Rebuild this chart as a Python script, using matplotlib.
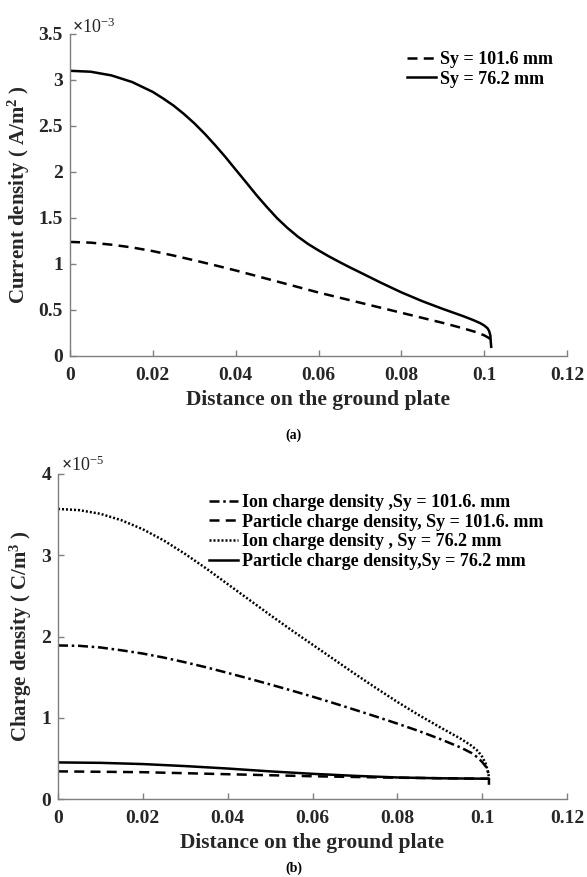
import numpy as np
import matplotlib.pyplot as plt
from matplotlib.ticker import FuncFormatter, MultipleLocator

plt.rcParams['font.family'] = 'Liberation Serif'
plt.rcParams['font.weight'] = 'bold'
plt.rcParams['axes.labelweight'] = 'bold'
plt.rcParams['mathtext.fontset'] = 'custom'
plt.rcParams['mathtext.rm'] = 'Liberation Serif:bold'
plt.rcParams['mathtext.bf'] = 'Liberation Serif:bold'
plt.rcParams['mathtext.it'] = 'Liberation Serif:bold'
plt.rcParams['mathtext.default'] = 'bf'

# current density on the ground plate, in units of 1e-3 A/m^2
x_cur_76 = [0, 0.005, 0.01, 0.015, 0.02, 0.0225, 0.025, 0.0275, 0.03, 0.0325,
            0.035, 0.0375, 0.04, 0.0425, 0.045, 0.0475, 0.05, 0.0525, 0.055,
            0.0575, 0.06, 0.0625, 0.065, 0.0675, 0.07, 0.075, 0.08, 0.085,
            0.09, 0.095, 0.0975, 0.099, 0.1, 0.1008, 0.1012, 0.1015, 0.1016,
            0.1017]
cur_76 = [3.100, 3.090, 3.050, 2.978, 2.870, 2.799, 2.722, 2.631, 2.530, 2.417,
          2.294, 2.164, 2.026, 1.889, 1.750, 1.621, 1.498, 1.392, 1.298,
          1.217, 1.148, 1.083, 1.023, 0.965, 0.910, 0.798, 0.692, 0.597,
          0.512, 0.432, 0.388, 0.358, 0.332, 0.302, 0.272, 0.222, 0.150,
          0.100]
x_cur_101 = [0, 0.005, 0.01, 0.015, 0.02, 0.025, 0.03, 0.035, 0.04, 0.05,
             0.06, 0.07, 0.08, 0.09, 0.095, 0.098, 0.1, 0.101, 0.1016]
cur_101 = [1.240, 1.232, 1.210, 1.180, 1.140, 1.092, 1.040, 0.986, 0.930, 0.810,
           0.690, 0.580, 0.470, 0.360, 0.300, 0.260, 0.225, 0.200, 0.180]

# charge densities, in units of 1e-5 C/m^3
x_ion_101 = [0, 0.005, 0.01, 0.015, 0.02, 0.025, 0.03, 0.035, 0.04, 0.045,
             0.05, 0.055, 0.06, 0.065, 0.07, 0.075, 0.08, 0.085, 0.09, 0.095,
             0.0975, 0.099, 0.1, 0.101, 0.1016]
ion_101 = [1.890, 1.885, 1.865, 1.830, 1.790, 1.740, 1.682, 1.620, 1.552, 1.482,
           1.410, 1.336, 1.260, 1.180, 1.098, 1.014, 0.928, 0.838, 0.740, 0.632,
           0.566, 0.508, 0.455, 0.390, 0.300]
x_part_101 = [0, 0.02, 0.04, 0.06, 0.08, 0.1, 0.1016]
part_101 = [0.340, 0.330, 0.305, 0.280, 0.262, 0.250, 0.250]
x_ion_76 = [0, 0.005, 0.01, 0.015, 0.02, 0.025, 0.03, 0.035, 0.04, 0.045,
            0.05, 0.055, 0.06, 0.065, 0.07, 0.075, 0.08, 0.085, 0.09, 0.095,
            0.0975, 0.099, 0.1, 0.1008, 0.1012, 0.1015, 0.1016]
ion_76 = [3.570, 3.555, 3.510, 3.430, 3.320, 3.180, 3.015, 2.835, 2.645, 2.455,
          2.265, 2.080, 1.900, 1.720, 1.540, 1.365, 1.195, 1.035, 0.885, 0.740,
          0.655, 0.590, 0.520, 0.440, 0.370, 0.300, 0.240]
x_part_76 = [0, 0.01, 0.02, 0.03, 0.04, 0.05, 0.06, 0.07, 0.08, 0.09, 0.1,
             0.1016, 0.1016]
part_76 = [0.450, 0.445, 0.430, 0.405, 0.375, 0.340, 0.310, 0.285, 0.265,
           0.255, 0.250, 0.250, 0.190]

W, H = 587, 877
fig = plt.figure(figsize=(W / 100, H / 100), dpi=100)
axA = fig.add_axes((70 / W, 1 - 356 / H, 497 / W, 322 / H))
axB = fig.add_axes((58 / W, 1 - 799 / H, 509 / W, 325 / H))

tick_fmt = FuncFormatter(lambda v, p: f'{v:g}')
axis_grey = '#7f7f7f'
label_col = '#262626'


def style_axes(ax, ymax, ystep):
    ax.set_xlim(0, 0.12)
    ax.set_ylim(0, ymax)
    ax.xaxis.set_major_locator(MultipleLocator(0.02))
    ax.yaxis.set_major_locator(MultipleLocator(ystep))
    ax.xaxis.set_major_formatter(tick_fmt)
    ax.yaxis.set_major_formatter(tick_fmt)
    for s in ['top', 'right']:
        ax.spines[s].set_visible(False)
    for s in ['left', 'bottom']:
        ax.spines[s].set_color(axis_grey)
        ax.spines[s].set_linewidth(1.0)
    ax.tick_params(direction='in', length=4, width=1.0, color=axis_grey,
                   labelsize=14, labelcolor=label_col)
    ax.tick_params(axis='x', pad=8)
    ax.tick_params(axis='y', pad=5)
    ax.set_xlabel('Distance on the ground plate', fontsize=15.5,
                  color=label_col, labelpad=4)


lw = 1.8

axA.plot(x_cur_101, cur_101, color='black', lw=lw, dashes=(4, 2.5),
         label='Sy = 101.6 mm')
axA.plot(x_cur_76, cur_76, color='black', lw=lw, label='Sy = 76.2 mm')
style_axes(axA, 3.5, 0.5)
axA.set_ylabel('Current density ( A/m$^{2}$ )', fontsize=15,
               color=label_col, labelpad=5)
axA.text(0.005, 0.992, r'$\times\mathregular{10^{-3}}$', transform=axA.transAxes,
         fontsize=13, ha='left', va='bottom', color=label_col,
         fontweight='normal')
axA.legend(loc='upper left', bbox_to_anchor=(407 / W, 1 - 51 / H),
           bbox_transform=fig.transFigure, frameon=False, fontsize=13,
           handlelength=1.6, handletextpad=0.2, borderpad=0,
           borderaxespad=0, labelspacing=0.15)

axB.plot(x_ion_101, ion_101, color='black', lw=lw, dashes=(4, 1.5, 1, 1.5),
         label='Ion charge density ,Sy = 101.6. mm')
axB.plot(x_part_101, part_101, color='black', lw=lw, dashes=(4, 2.5),
         label='Particle charge density, Sy = 101.6. mm')
axB.plot(x_ion_76, ion_76, color='black', lw=lw, dashes=(0.8, 0.8),
         label='Ion charge density , Sy = 76.2 mm')
axB.plot(x_part_76, part_76, color='black', lw=lw,
         label='Particle charge density,Sy = 76.2 mm')
style_axes(axB, 4, 1)
axB.set_ylabel('Charge density ( C/m$^{3}$ )', fontsize=15,
               color=label_col, labelpad=5)
axB.text(0.005, 0.996, r'$\times\mathregular{10^{-5}}$', transform=axB.transAxes,
         fontsize=13, ha='left', va='bottom', color=label_col,
         fontweight='normal')
axB.legend(loc='upper left', bbox_to_anchor=(209 / W, 1 - 494 / H),
           bbox_transform=fig.transFigure, frameon=False, fontsize=13,
           handlelength=1.6, handletextpad=0.2, borderpad=0,
           borderaxespad=0, labelspacing=0.15)

fig.text(294 / W, 1 - 435 / H, '(a)', fontsize=10, ha='center', va='center')
fig.text(294 / W, 1 - 868 / H, '(b)', fontsize=10, ha='center', va='center')

fig.savefig('out.png', dpi=100, facecolor='white')
